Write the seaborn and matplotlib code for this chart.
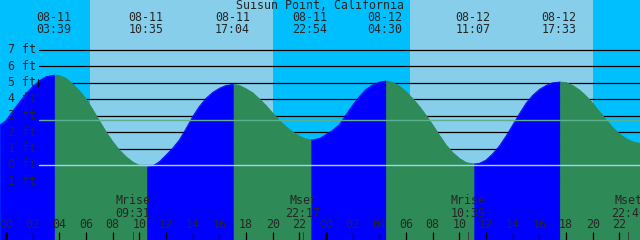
import numpy as np
import pandas as pd
import matplotlib
matplotlib.use("Agg")
import matplotlib.pyplot as plt
import matplotlib.transforms as mtransforms
import seaborn as sns

# ---------------- data ----------------
title = "Suisun Point, California"

# tide curve samples: hours since 08-11 00:00, height in ft
curve_hours = [-0.45, 0, 0.5, 1, 1.5, 2, 2.5, 3, 3.65,
               4, 4.5, 5, 5.5, 6, 6.5, 7, 7.5, 8, 8.5, 9, 9.5, 10, 10.58,
               11, 11.5, 12, 12.5, 13, 13.5, 14, 14.5, 15, 15.5, 16, 16.5, 17.07,
               17.5, 18, 18.5, 19, 19.5, 20, 20.5, 21, 21.5, 22, 22.4, 22.9,
               23.5, 24, 24.5, 25, 25.5, 26, 26.5, 27, 27.5, 28, 28.5,
               29, 29.5, 30, 30.5, 31, 31.5, 32, 32.5, 33, 33.5, 34, 34.5, 35.12,
               35.5, 36, 36.5, 37, 37.5, 38, 38.5, 39, 39.5, 40, 40.5, 41, 41.55,
               42, 42.5, 43, 43.5, 44, 44.5, 45, 45.5, 46, 46.5, 47, 47.55]
curve_ft = [2.42, 2.7, 3.25, 3.8, 4.32, 4.75, 5.1, 5.35, 5.45,
            5.42, 5.25, 4.9, 4.5, 4.0, 3.35, 2.67, 2.0, 1.41, 0.9, 0.5, 0.18, -0.02, -0.12,
            -0.06, 0.2, 0.6, 1.02, 1.52, 2.2, 2.93, 3.55, 4.04, 4.4, 4.65, 4.82, 4.89,
            4.82, 4.62, 4.38, 4.0, 3.6, 3.13, 2.7, 2.32, 2.0, 1.76, 1.6, 1.52,
            1.6, 1.85, 2.1, 2.45, 3.05, 3.63, 4.15, 4.58, 4.85, 5.02, 5.09,
            5.0, 4.78, 4.44, 4.02, 3.55, 3.0, 2.42, 1.8, 1.21, 0.75, 0.4, 0.15, 0.06,
            0.1, 0.3, 0.68, 1.15, 1.75, 2.42, 3.1, 3.74, 4.22, 4.58, 4.82, 4.98, 5.03,
            4.99, 4.82, 4.55, 4.18, 3.74, 3.23, 2.73, 2.27, 1.88, 1.6, 1.41, 1.31]

# high / low events
ext_hours = [3.65, 10.58, 17.07, 22.9, 28.5, 35.12, 41.55]
ext_kind = ["H", "L", "H", "L", "H", "L", "H"]
ext_date = ["08-11", "08-11", "08-11", "08-11", "08-12", "08-12", "08-12"]
ext_time = ["03:39", "10:35", "17:04", "22:54", "04:30", "11:07", "17:33"]

# sun (daytime spans)
sunrise_hours = [6.3, 30.3]
sunset_hours = [20.03, 44.03]

# moon events
moon_hours = [9.52, 22.28, 34.65, 46.67]
moon_kind = ["Mrise", "Mset", "Mrise", "Mset"]
moon_time = ["09:31", "22:17", "10:39", "22:40"]

# axis levels
level_ft = [-1, 0, 1, 2, 3, 4, 5, 6, 7]
level_labels = ["-1 ft", "0 ft", "1 ft", "2 ft", "3 ft", "4 ft", "5 ft", "6 ft", "7 ft"]
msl_ft = 2.73
hour_ticks = list(range(0, 48, 2))
hour_labels = [f"{h % 24:02d}" for h in hour_ticks]

# ---------------- styling ----------------
NIGHT = "#00BFFF"
DAY = "#87CEEB"
RISE = "#0000FF"
FALL = "#2E8B57"
MSL_C = "#5DB08E"
DATUM_C = "#A0D6EE"

W, H = 640, 240
XMIN, XMAX = -0.45, 47.55
YTOP, YBOT = 165 / 16.5, (165 - 240) / 16.5

sns.set_style("white")
plt.rcParams["font.family"] = ["DejaVu Sans Mono", "DejaVu Sans"]
FS = 8.4

fig = plt.figure(figsize=(W / 100, H / 100), dpi=100)
ax = fig.add_axes([0, 0, 1, 1])


def fy(px):  # pixel row -> axes fraction
    return 1 - px / H


def fx(px):
    return px / W


# background: night everywhere, day spans
ax.axvspan(XMIN, XMAX, color=NIGHT, lw=0, zorder=0)
for a, b in zip(sunrise_hours, sunset_hours):
    ax.axvspan(a, b, color=DAY, lw=0, zorder=0.5)

# grid lines (behind the tide fill)
for lv in level_ft:
    ax.axhline(lv, xmin=fx(39), xmax=1, color="black", lw=0.9, zorder=1)

# tide fill, rising blue / falling green
df = pd.DataFrame({"hour": curve_hours, "ft": curve_ft})
bounds = [XMIN - 1] + ext_hours + [XMAX + 1]
for i in range(len(bounds) - 1):
    seg = df[(df.hour >= bounds[i]) & (df.hour <= bounds[i + 1])]
    if i < len(ext_kind):
        col = RISE if ext_kind[i] == "H" else FALL
    else:
        col = FALL if ext_kind[-1] == "H" else RISE
    ax.fill_between(seg.hour, YBOT, seg.ft, color=col, lw=0.5, edgecolor=col, zorder=2)
    sns.lineplot(data=seg, x="hour", y="ft", color=col, lw=0.6, ax=ax, zorder=2.1,
                 estimator=None, sort=False)

ax.set_xlim(XMIN, XMAX)
ax.set_ylim(YBOT, YTOP)
ax.axis("off")

# datum and mean sea level lines
ax.axhline(0, xmin=fx(39), xmax=1, color=DATUM_C, lw=1.0, zorder=3)
ax.axhline(msl_ft, xmin=fx(39), xmax=1, color=MSL_C, lw=1.0, zorder=3)

# y labels
ytr = mtransforms.blended_transform_factory(ax.transAxes, ax.transData)
for lv, lab in zip(level_ft, level_labels):
    ax.text(fx(36), lv, lab, transform=ytr, ha="right", va="center", fontsize=FS, zorder=5)
ax.plot([fx(38), fx(38)], [5 - 0.22, 5 + 0.22], transform=ytr, color="black", lw=0.9, zorder=5)

xtr = ax.get_xaxis_transform()
# title
ax.text(0.5, fy(5.5), title, transform=ax.transAxes, ha="center", va="center",
        fontsize=FS, zorder=5)
# high/low labels
for h, d, t in zip(ext_hours, ext_date, ext_time):
    ax.text(h - 0.1, fy(23.4), f"{d}\n{t}", transform=xtr, ha="center", va="center",
            fontsize=FS, linespacing=0.95, zorder=5)

# hour ticks and labels
for h, lab in zip(hour_ticks, hour_labels):
    lw = 2.2 if h % 24 == 0 else 0.9
    ax.plot([h, h], [fy(240), fy(232)], transform=xtr, color="black", lw=lw, zorder=5,
            solid_capstyle="butt")
    ax.text(h, fy(225), lab, transform=xtr, ha="center", va="center", fontsize=FS, zorder=5)

# moon events
for h, k, t in zip(moon_hours, moon_kind, moon_time):
    ax.plot([h, h], [fy(240), fy(232)], transform=xtr, color="#3a3a3a", lw=0.7, zorder=5)
    ax.text(h, fy(207), f"{k}\n{t}", transform=xtr, ha="center", va="center",
            fontsize=FS, linespacing=0.95, zorder=5)

fig.savefig("out.png", dpi=100)
